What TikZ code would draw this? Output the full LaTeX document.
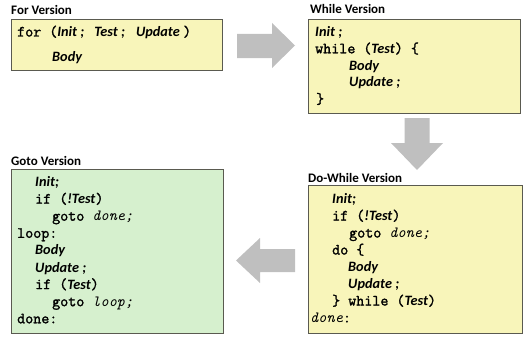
\documentclass[tikz,border=0pt]{standalone}
\usepackage{fontspec}
\setmainfont{Carlito}
\newfontfamily\phfont{Carlito}
\newfontfamily\codefont{Latin Modern Mono}[FakeBold=1.6]
\newfontfamily\labfont{Latin Modern Mono}
\definecolor{boxyellow}{RGB}{248,245,186}
\definecolor{boxgreen}{RGB}{214,240,206}
\definecolor{boxedge}{RGB}{90,90,80}
\definecolor{arrowgray}{RGB}{191,191,191}
% code fragments: keywords in bold mono, placeholders in bold italic sans,
% labels in italic mono
\newcommand\kw[1]{{\codefont #1}}
\newcommand\ph[1]{{\phfont\fontsize{14.3}{16}\selectfont\bfseries\itshape #1}}
\newcommand\lab[1]{{\labfont\itshape #1}}
\begin{document}
\begin{tikzpicture}[x=1pt,y=-1pt,
  codebox/.style={draw=boxedge,line width=1pt,anchor=north west,inner sep=0pt},
  title/.style={anchor=base west,inner sep=0pt,font=\fontsize{13}{15}\selectfont\bfseries},
  code/.style={anchor=base west,inner sep=0pt,font=\fontsize{15.6}{16}\selectfont},
  blockarrow/.style={fill=arrowgray,draw=none}]
\useasboundingbox (0,0) rectangle (524,337);

% boxes
\node[codebox,fill=boxyellow,minimum width=211pt,minimum height=51pt] (forbox) at (11,19) {};
\node[codebox,fill=boxyellow,minimum width=212pt,minimum height=94pt] (whilebox) at (308,19) {};
\node[codebox,fill=boxgreen,minimum width=212pt,minimum height=164pt] (gotobox) at (11,169) {};
\node[codebox,fill=boxyellow,minimum width=214pt,minimum height=148pt] (dobox) at (308,185) {};

% titles
\node[title] (fortitle) at (11,15) {For Version};
\node[title] (whiletitle) at (310,13.5) {While Version};
\node[title] (gototitle) at (11,165) {Goto Version};
\node[title] (dotitle) at (308,182) {Do-While Version};

% for loop
\node[code] (f1) at (17,36.5) {\kw{for (}\ph{Init ;}\hspace{10pt}\ph{Test ;}\hspace{11pt}\ph{Update }\kw{)}};
\node[code] (f2) at (52,61.5) {\ph{Body}};

% while loop
\node[code] (w1) at (315,36.5) {\ph{Init ;}};
\node[code] (w2) at (315,53.3) {\kw{while (}\ph{Test}\kw{) \{}};
\node[code] (w3) at (349,70.1) {\ph{Body}};
\node[code] (w4) at (349,86.9) {\ph{Update ;}};
\node[code] (w5) at (316,103.7) {\kw{\}}};

% goto version
\node[code] (g1) at (35,186.5) {\ph{Init;}};
\node[code] (g2) at (35,203.6) {\kw{if (}\ph{!Test}\kw{)}};
\node[code] (g3) at (52,220.7) {\kw{goto }\lab{done;}};
\node[code] (g4) at (17,237.8) {\kw{loop:}};
\node[code] (g5) at (35,254.9) {\ph{Body}};
\node[code] (g6) at (35,272.0) {\ph{Update ;}};
\node[code] (g7) at (35,289.1) {\kw{if (}\ph{Test}\kw{)}};
\node[code] (g8) at (52,306.2) {\kw{goto }\lab{loop;}};
\node[code] (g9) at (17,323.3) {\kw{done:}};

% do-while version
\node[code] (d1) at (332,203.5) {\ph{Init;}};
\node[code] (d2) at (332,220.5) {\kw{if (}\ph{!Test}\kw{)}};
\node[code] (d3) at (349,237.5) {\kw{goto }\lab{done;}};
\node[code] (d4) at (332,254.5) {\kw{do \{}};
\node[code] (d5) at (348,271.5) {\ph{Body}};
\node[code] (d6) at (348,288.5) {\ph{Update ;}};
\node[code] (d7) at (332,305.5) {\kw{\} while (}\ph{Test}\kw{)}};
\node[code] (d8) at (310,322.5) {\lab{done}\kw{:}};

% block arrows between the versions
\fill[blockarrow] (237,34) -- (272,34) -- (272,23) -- (295,45.5)
  -- (272,68) -- (272,58) -- (237,58) -- cycle;
\fill[blockarrow] (404.5,118) -- (429.5,118) -- (429.5,143) -- (443,143)
  -- (417,170) -- (391,143) -- (404.5,143) -- cycle;
\fill[blockarrow] (295,249) -- (260,249) -- (260,238) -- (236,260.5)
  -- (260,283) -- (260,272) -- (295,272) -- cycle;
\end{tikzpicture}
\end{document}
